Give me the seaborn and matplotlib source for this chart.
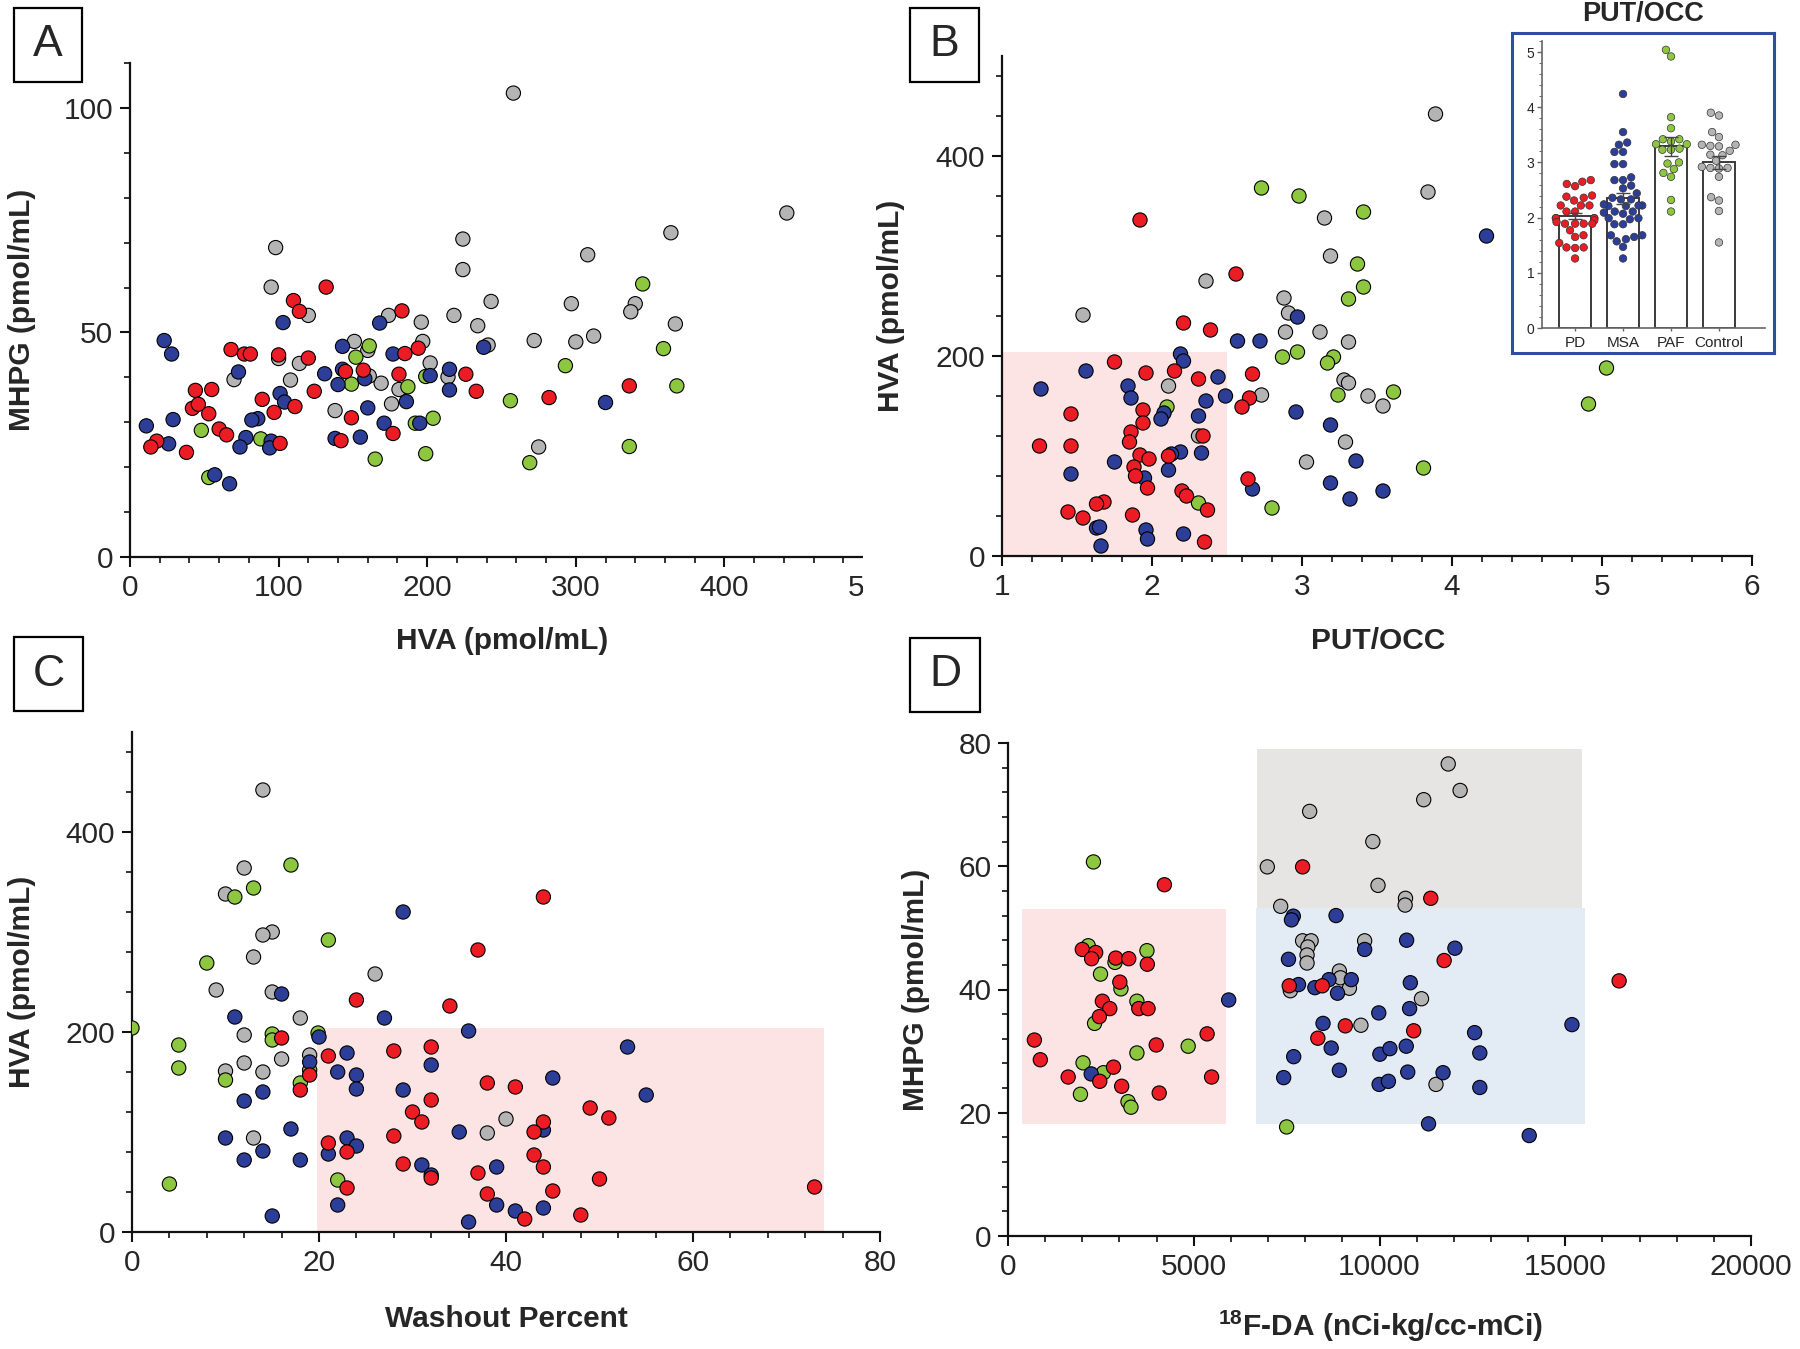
import numpy as np
import pandas as pd
import matplotlib
matplotlib.use("Agg")
import matplotlib.pyplot as plt
import seaborn as sns
from matplotlib.patches import Rectangle
from matplotlib.ticker import MultipleLocator, FixedLocator
from matplotlib.transforms import Bbox, TransformedBbox

# ---------------- data ----------------
GROUPS = ["Control", "PAF", "MSA", "PD"]
COLORS = {"PD": "#ec1c24", "MSA": "#2d3e98", "PAF": "#8dc63f", "Control": "#b4b4b4"}

# Panel A: HVA vs MHPG
A_ctrl_hva = [258, 442, 364, 224, 98, 308, 224, 95, 243, 297, 340, 337, 120, 174, 218, 234, 196, 367, 312, 151,
              272, 300, 197, 241, 160, 100, 114, 202, 70, 108, 169, 214, 181, 176, 138, 275, 161]
A_ctrl_mhpg = [103.3, 76.6, 72.2, 70.8, 68.9, 67.3, 64.0, 60.1, 56.9, 56.4, 56.4, 54.6, 53.8, 53.8, 53.8, 51.5, 52.3,
               51.9, 49.2, 48.0, 48.2, 47.9, 48.0, 47.2, 46.0, 44.2, 43.1, 43.2, 39.5, 39.4, 38.7, 40.1, 37.3, 34.1,
               32.6, 24.5, 40.3]
A_pd_hva = [132, 110, 114, 183, 68, 77, 81, 100, 185, 194, 120, 145, 157, 181, 226, 44, 55, 124, 233, 89,
            42, 46, 111, 97, 53, 282, 336, 149, 60, 65, 177, 18, 14, 38, 101, 142]
A_pd_mhpg = [60.1, 57.1, 54.7, 54.8, 46.2, 45.2, 45.2, 45.0, 45.3, 46.5, 44.3, 41.3, 41.6, 40.7, 40.7, 37.1, 37.3,
             36.9, 36.9, 35.1, 33.1, 34.0, 33.5, 32.2, 31.9, 35.5, 38.1, 31.0, 28.5, 27.2, 27.5, 25.8, 24.5, 23.3,
             25.3, 25.9]
A_msa_hva = [23, 28, 103, 168, 143, 177, 238, 73, 131, 143, 215, 202, 140, 158, 101, 104, 215, 186, 320, 160,
             29, 86, 82, 11, 171, 195, 78, 26, 74, 95, 94, 138, 155, 57, 67]
A_msa_mhpg = [48.2, 45.2, 52.2, 52.1, 46.9, 45.2, 46.7, 41.2, 40.8, 41.8, 41.8, 40.4, 38.4, 39.7, 36.4, 34.5, 37.2,
              34.6, 34.4, 33.2, 30.6, 30.8, 30.5, 29.2, 29.8, 29.8, 26.6, 25.2, 24.5, 25.8, 24.3, 26.4, 26.7, 18.3,
              16.3]
A_paf_hva = [345, 359, 161, 152, 293, 368, 187, 149, 199, 256, 48, 88, 204, 192, 336, 199, 165, 269, 53]
A_paf_mhpg = [60.8, 46.4, 47.0, 44.5, 42.6, 38.1, 37.9, 38.5, 40.2, 34.8, 28.2, 26.3, 30.9, 29.8, 24.6, 23.0, 21.8,
              21.0, 17.7]

# Panel B: PUT/OCC vs HVA
B_ctrl_put = [3.89, 3.84, 3.15, 3.19, 2.36, 2.88, 2.91, 1.54, 2.89, 3.12, 3.31, 3.28, 3.31, 2.73, 3.44, 3.54, 2.11,
              2.31, 3.29, 3.03]
B_ctrl_hva = [442, 364, 338, 300, 275, 258, 243, 241, 224, 224, 214, 176, 173, 161, 160, 150, 170, 120, 114, 94]
B_paf_put = [2.73, 2.98, 3.41, 3.37, 3.41, 3.31, 2.97, 2.87, 3.21, 3.17, 3.61, 3.24, 5.03, 4.91, 3.81, 2.80, 2.10, 2.31]
B_paf_hva = [368, 360, 344, 292, 269, 257, 204, 199, 199, 193, 164, 161, 188, 152, 88, 48, 149, 53]
B_pd_put = [1.92, 2.56, 2.21, 2.39, 1.75, 1.96, 2.15, 2.31, 2.67, 2.65, 2.60, 1.94, 1.46, 1.94, 1.86, 1.85, 2.34,
            1.25, 1.46, 1.92, 1.98, 2.11, 1.88, 1.89, 1.97, 2.64, 2.20, 2.23, 1.68, 1.63, 1.44, 1.87, 2.37, 1.54, 2.35]
B_pd_hva = [336, 282, 233, 226, 194, 183, 185, 177, 182, 158, 149, 146, 142, 133, 124, 114, 120, 110, 110, 101,
            97, 100, 89, 80, 68, 77, 65, 60, 54, 52, 44, 41, 46, 38, 14]
B_msa_put = [4.23, 2.97, 2.57, 2.72, 2.19, 2.21, 1.56, 2.44, 1.26, 1.84, 1.86, 2.49, 2.36, 2.96, 2.08, 2.06, 2.31,
             3.19, 2.19, 2.13, 2.33, 1.75, 3.36, 1.46, 2.11, 1.95, 3.19, 2.67, 3.54, 3.32, 1.63, 1.65, 1.96, 1.97,
             2.21, 1.66]
B_msa_hva = [320, 239, 215, 215, 202, 195, 185, 179, 167, 170, 158, 160, 155, 144, 143, 137, 140, 131, 104, 102,
             103, 94, 95, 82, 86, 78, 73, 67, 65, 57, 28, 29, 26, 17, 22, 10]

# Panel C: washout vs HVA
C_ctrl_wo = [14, 12, 10, 15, 14, 13, 26, 9, 15, 18, 12, 16, 12, 19, 10, 14, 13, 40, 38]
C_ctrl_hva = [442, 364, 338, 300, 297, 275, 258, 242, 240, 214, 197, 173, 169, 177, 161, 160, 94, 113, 99]
C_paf_wo = [0, 5, 5, 10, 8, 13, 11, 17, 21, 15, 15, 19.9, 18, 19, 4, 22]
C_paf_hva = [204, 187, 164, 152, 269, 344, 335, 367, 292, 198, 192, 199, 149, 162, 48, 52]
C_msa_wo = [29, 16, 11, 27, 36, 20, 53, 23, 19, 32, 22, 24, 45, 24, 29, 14, 55, 12, 17, 35,
            44, 10, 23, 24, 14, 21, 12, 18, 31, 39, 32, 22, 39, 44, 41, 15, 36]
C_msa_hva = [320, 238, 215, 214, 201, 195, 185, 179, 170, 167, 160, 157, 154, 143, 142, 140, 137, 131, 103, 100,
             102, 94, 94, 86, 81, 78, 72, 72, 67, 65, 57, 27, 27, 24, 21, 16, 10]
C_pd_wo = [44, 37, 24, 34, 16, 32, 28, 21, 19, 38, 41, 18, 32, 49, 30, 51, 44, 31, 43, 28,
           21, 23, 43, 29, 44, 32, 37, 50, 23, 45, 38, 73, 48, 42]
C_pd_hva = [335, 282, 232, 226, 194, 185, 181, 176, 157, 149, 145, 142, 132, 124, 120, 114, 110, 110, 100, 96,
            89, 80, 77, 68, 65, 54, 59, 53, 44, 41, 38, 45, 17, 13]

# Panel D: 18F-DA vs MHPG
D_ctrl_fda = [11850, 12170, 11190, 8120, 9820, 6980, 9960, 10700, 10690, 7340, 7930, 8160, 8070, 8050, 8050, 8920,
              8950, 9600, 9190, 11130, 7600, 9500, 11520]
D_ctrl_mhpg = [76.6, 72.3, 70.8, 68.9, 64.0, 59.9, 56.9, 54.8, 53.7, 53.5, 47.9, 47.9, 46.9, 45.6, 44.3, 43.0, 41.9,
               47.9, 40.2, 38.5, 39.8, 34.2, 24.6]
D_pd_fda = [7930, 4210, 11380, 11740, 16450, 7570, 8460, 2000, 2360, 2250, 2900, 3250, 3750, 3010, 2540, 2740, 3520,
            3770, 2460, 10920, 9080, 8340, 5360, 710, 3990, 870, 2840, 1620, 2470, 5480, 3060, 4070]
D_pd_mhpg = [59.9, 57.0, 54.8, 44.7, 41.4, 40.6, 40.6, 46.5, 46.0, 45.0, 45.1, 45.0, 44.1, 41.2, 38.1, 36.9, 36.9,
             36.9, 35.6, 33.3, 34.1, 32.1, 32.8, 31.8, 31.0, 28.6, 27.4, 25.8, 25.1, 25.8, 24.3, 23.2]
D_paf_fda = [2300, 2160, 3740, 2880, 2490, 3040, 3470, 2330, 4850, 3470, 2020, 2570, 1950, 3230, 3310, 7500]
D_paf_mhpg = [60.7, 47.1, 46.3, 44.4, 42.5, 40.1, 38.1, 34.5, 30.8, 29.7, 28.1, 26.5, 23.0, 21.8, 20.9, 17.7]
D_msa_fda = [5940, 7680, 7630, 8830, 10730, 9600, 12030, 7550, 7820, 8260, 8640, 9240, 8870, 10830, 9980, 10810,
             8480, 15180, 12560, 8700, 10010, 10280, 10720, 7690, 12700, 8920, 10760, 11710, 7420, 2240, 9990, 10240,
             12700, 11320, 14030]
D_msa_mhpg = [38.3, 51.9, 51.3, 52.0, 48.0, 46.5, 46.7, 44.9, 40.8, 40.3, 41.6, 41.6, 39.4, 41.1, 36.2, 36.9, 34.5,
              34.3, 33.0, 30.5, 29.5, 30.4, 30.8, 29.1, 29.7, 26.9, 26.6, 26.5, 25.7, 26.3, 24.6, 25.1, 24.1, 18.2,
              16.3]

# Inset: PUT/OCC by group
IN_cats = ["PD", "MSA", "PAF", "Control"]
IN_pd = [2.68, 2.65, 2.61, 2.57, 2.40, 2.38, 2.36, 2.31, 2.22, 2.22, 2.22, 2.11, 2.11, 1.99, 1.99, 1.99, 1.99, 1.95,
         1.89, 1.89, 1.89, 1.92, 1.89, 1.77, 1.68, 1.65, 1.54, 1.46, 1.45, 1.46, 1.26]
IN_msa = [4.24, 3.55, 3.32, 3.36, 3.19, 3.19, 2.97, 2.97, 2.73, 2.68, 2.68, 2.58, 2.53, 2.44, 2.33, 2.33, 2.36, 2.21,
          2.21, 2.22, 2.22, 2.24, 2.11, 2.11, 2.07, 2.09, 1.99, 1.99, 1.97, 1.88, 1.88, 1.68, 1.65, 1.68, 1.61, 1.57,
          1.47, 1.26]
IN_paf = [5.04, 4.92, 3.82, 3.62, 3.42, 3.42, 3.38, 3.33, 3.33, 3.23, 3.23, 3.25, 3.0, 2.98, 2.88, 2.81, 2.74, 2.32,
          2.11]
IN_ctrl = [3.85, 3.9, 3.55, 3.46, 3.32, 3.29, 3.3, 3.32, 3.13, 3.14, 3.21, 2.9, 3.03, 2.92, 2.9, 2.89, 2.74, 2.31,
           2.37, 2.12, 1.55]
IN_mean = [2.03, 2.35, 3.29, 3.00]
IN_sem = [0.06, 0.10, 0.17, 0.12]

# shaded regions (x0, x1, y0, y1)
B_region = (1.0, 2.5, 0, 204)
C_region = (19.8, 74.0, 0, 204)
D_region_pd = (380, 5870, 18.1, 53.1)
D_region_ctrl = (6700, 15440, 53.2, 79.1)
D_region_msa = (6670, 15520, 18.1, 53.2)

# ---------------- style ----------------
sns.set_style("ticks")
plt.rcParams["font.family"] = ["Liberation Sans", "DejaVu Sans"]
plt.rcParams["mathtext.fontset"] = "custom"
plt.rcParams["mathtext.rm"] = "Liberation Sans"
plt.rcParams["mathtext.bf"] = "Liberation Sans:bold"

W, H = 1800, 1349
fig = plt.figure(figsize=(W / 100, H / 100), dpi=100)
fig.patch.set_facecolor("white")


def rect(l, r, t, b):
    return [l / W, 1 - b / H, (r - l) / W, (b - t) / H]


def make_df(groups):
    rows = []
    for name, xs, ys in groups:
        for xv, yv in zip(xs, ys):
            rows.append({"group": name, "x": xv, "y": yv})
    return pd.DataFrame(rows)


def style_axes(ax):
    sns.despine(ax=ax)
    for s in ("left", "bottom"):
        ax.spines[s].set_linewidth(1.6)
        ax.spines[s].set_color("#111111")
    ax.tick_params(which="major", length=7, width=1.5, labelsize=21.5, pad=5, color="#111111")
    ax.tick_params(which="minor", length=4, width=1.2, color="#111111")
    ax.set_xlabel("")
    ax.set_ylabel("")
    ax.set_facecolor("none")


def scatter(ax, df):
    sns.scatterplot(data=df, x="x", y="y", hue="group", palette=COLORS, s=105,
                    edgecolor="black", linewidth=0.8, legend=False, ax=ax, zorder=3)


def shade(ax, region, color):
    x0, x1, y0, y1 = region
    ax.add_patch(Rectangle((x0, y0), x1 - x0, y1 - y0, facecolor=color, edgecolor="none", zorder=0))


PINK = "#fce4e4"
GRAY = "#e6e5e3"
LBLUE = "#e3ebf4"

# ---------------- Panel A ----------------
axA = fig.add_axes(rect(130, 873, 63, 557))
dfA = make_df([("Control", A_ctrl_hva, A_ctrl_mhpg), ("PAF", A_paf_hva, A_paf_mhpg),
               ("MSA", A_msa_hva, A_msa_mhpg), ("PD", A_pd_hva, A_pd_mhpg)])
scatter(axA, dfA)
axA.set_xlim(0, 500)
axA.set_ylim(0, 110)
axA.xaxis.set_major_locator(FixedLocator([0, 100, 200, 300, 400, 500]))
axA.xaxis.set_minor_locator(MultipleLocator(20))
axA.yaxis.set_major_locator(FixedLocator([0, 50, 100]))
axA.yaxis.set_minor_locator(MultipleLocator(10))
style_axes(axA)

# ---------------- Panel B ----------------
axB = fig.add_axes(rect(1002, 1752, 56, 556))
shade(axB, B_region, PINK)
dfB = make_df([("Control", B_ctrl_put, B_ctrl_hva), ("PAF", B_paf_put, B_paf_hva),
               ("MSA", B_msa_put, B_msa_hva), ("PD", B_pd_put, B_pd_hva)])
scatter(axB, dfB)
axB.set_xlim(1, 6)
axB.set_ylim(0, 500)
axB.xaxis.set_major_locator(MultipleLocator(1))
axB.xaxis.set_minor_locator(MultipleLocator(0.2))
axB.yaxis.set_major_locator(FixedLocator([0, 200, 400]))
axB.yaxis.set_minor_locator(MultipleLocator(40))
style_axes(axB)

# ---------------- Panel C ----------------
axC = fig.add_axes(rect(132, 880, 732, 1232))
shade(axC, C_region, PINK)
dfC = make_df([("Control", C_ctrl_wo, C_ctrl_hva), ("PAF", C_paf_wo, C_paf_hva),
               ("MSA", C_msa_wo, C_msa_hva), ("PD", C_pd_wo, C_pd_hva)])
scatter(axC, dfC)
axC.set_xlim(0, 80)
axC.set_ylim(0, 500)
axC.xaxis.set_major_locator(MultipleLocator(20))
axC.xaxis.set_minor_locator(MultipleLocator(4))
axC.yaxis.set_major_locator(FixedLocator([0, 200, 400]))
axC.yaxis.set_minor_locator(MultipleLocator(40))
style_axes(axC)

# ---------------- Panel D ----------------
axD = fig.add_axes(rect(1008, 1751, 743, 1236))
shade(axD, D_region_pd, PINK)
shade(axD, D_region_ctrl, GRAY)
shade(axD, D_region_msa, LBLUE)
dfD = make_df([("Control", D_ctrl_fda, D_ctrl_mhpg), ("PAF", D_paf_fda, D_paf_mhpg),
               ("MSA", D_msa_fda, D_msa_mhpg), ("PD", D_pd_fda, D_pd_mhpg)])
scatter(axD, dfD)
axD.set_xlim(0, 20000)
axD.set_ylim(0, 80)
axD.xaxis.set_major_locator(MultipleLocator(5000))
axD.xaxis.set_minor_locator(MultipleLocator(1000))
axD.yaxis.set_major_locator(MultipleLocator(20))
axD.yaxis.set_minor_locator(MultipleLocator(4))
style_axes(axD)

# clip the right end of panel A (as in the reference, "500" is cut off)
clipA = TransformedBbox(Bbox.from_extents(0, 0, 863 / W, 1), fig.transFigure)
axA.spines["bottom"].set_clip_box(clipA)
axA.spines["bottom"].set_clip_on(True)
for t in axA.xaxis.get_major_ticks():
    for art in (t.label1, t.tick1line):
        art.set_clip_box(clipA)
        art.set_clip_on(True)

# ---------------- Inset ----------------
frame = fig.add_axes(rect(1512, 1774, 33, 353))
frame.set_xticks([])
frame.set_yticks([])
frame.set_facecolor("white")
for s in frame.spines.values():
    s.set_visible(True)
    s.set_color("#2f4f9e")
    s.set_linewidth(2.2)
frame.set_zorder(5)

axI = fig.add_axes(rect(1542, 1765, 41, 328))
axI.set_zorder(6)
axI.set_facecolor("none")
dfI = pd.DataFrame({"group": ["PD"] * len(IN_pd) + ["MSA"] * len(IN_msa) + ["PAF"] * len(IN_paf)
                    + ["Control"] * len(IN_ctrl),
                    "val": IN_pd + IN_msa + IN_paf + IN_ctrl})
sns.barplot(x=IN_cats, y=IN_mean, order=IN_cats, color="white", edgecolor="#3a3a3a",
            linewidth=1.4, width=0.66, errorbar=None, ax=axI, zorder=1)
sns.swarmplot(data=dfI, x="group", y="val", hue="group", order=IN_cats, palette=COLORS, size=5.4,
              edgecolor="#333333", linewidth=0.5, legend=False, ax=axI, zorder=3, warn_thresh=1)
axI.errorbar(x=np.arange(len(IN_cats)), y=IN_mean, yerr=IN_sem, fmt="none", ecolor="#444444",
             elinewidth=1.0, capsize=5, capthick=1.0, zorder=4)
axI.set_xlim(-0.69, 3.96)
axI.set_ylim(0, 5.2)
axI.yaxis.set_major_locator(MultipleLocator(1))
axI.yaxis.set_minor_locator(MultipleLocator(0.2))
sns.despine(ax=axI)
for s in ("left", "bottom"):
    axI.spines[s].set_linewidth(1.2)
    axI.spines[s].set_color("#666666")
axI.tick_params(axis="y", which="major", length=3.5, width=1, labelsize=10, pad=2, color="#666666")
axI.tick_params(axis="y", which="minor", length=2, width=0.7, color="#666666")
axI.tick_params(axis="x", length=2.5, width=1, labelsize=11, pad=3, color="#666666")
axI.set_xlabel("")
axI.set_ylabel("")
fig.text(1643 / W, 1 - 14 / H, "PUT/OCC", ha="center", va="center", fontsize=19.5, fontweight="bold")

# ---------------- axis labels ----------------
LBL = dict(fontsize=21.5, fontweight="bold", ha="center", va="center")
fig.text(502 / W, 1 - 641 / H, "HVA (pmol/mL)", **LBL)
fig.text(22 / W, 1 - 310 / H, "MHPG (pmol/mL)", rotation=90, **LBL)
fig.text(1378 / W, 1 - 641 / H, "PUT/OCC", **LBL)
fig.text(891 / W, 1 - 306 / H, "HVA (pmol/mL)", rotation=90, **LBL)
fig.text(506 / W, 1 - 1319 / H, "Washout Percent", **LBL)
fig.text(22 / W, 1 - 982 / H, "HVA (pmol/mL)", rotation=90, **LBL)
fig.text(1381 / W, 1 - 1326 / H, r"$^{\mathbf{18}}$F-DA (nCi-kg/cc-mCi)", **LBL)
fig.text(916 / W, 1 - 990 / H, "MHPG (pmol/mL)", rotation=90, **LBL)

# ---------------- panel letters ----------------
for letter, (l, r, t, b) in {"A": (14, 82, 8, 82), "B": (910, 979, 8, 82),
                             "C": (14, 83, 637, 711), "D": (910, 980, 638, 712)}.items():
    fig.add_artist(Rectangle((l / W, 1 - b / H), (r - l) / W, (b - t) / H, transform=fig.transFigure,
                             facecolor="white", edgecolor="black", linewidth=1.6))
    fig.text((l + r) / 2 / W, 1 - (t + b) / 2 / H, letter, ha="center", va="center", fontsize=32)

fig.savefig("out.png", dpi=100, facecolor="white")
